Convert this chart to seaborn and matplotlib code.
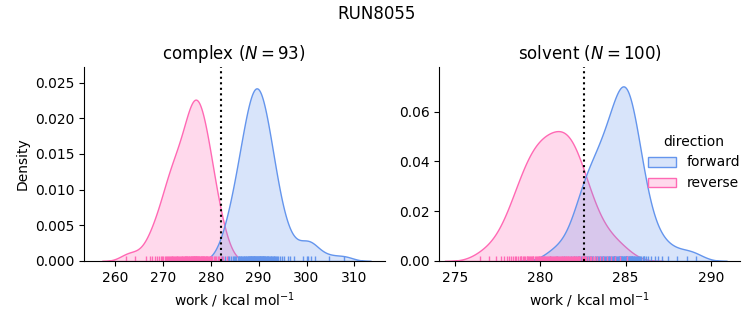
import numpy as np
import pandas as pd
import matplotlib
matplotlib.use("Agg")
import matplotlib.pyplot as plt
import seaborn as sns

# ---- data (work values, kcal/mol) ----
complex_reverse = [
    262.3, 264.1, 266.4, 267.2, 267.8, 268.4, 268.7, 269.1, 269.5,
    269.8, 270.1, 270.4, 270.7, 270.9, 271.1, 271.3, 271.5, 271.6, 271.8,
    271.9, 272.0, 272.2, 272.5, 272.7, 272.9, 273.0, 273.2, 273.4, 273.6, 273.9,
    273.7, 273.9, 274.1, 274.3, 274.5, 274.6, 274.8,
    274.9, 275.0, 275.1, 275.3, 275.4, 275.5, 275.7, 275.8, 275.9,
    276.0, 276.1, 276.2, 276.3, 276.4, 276.5, 276.5, 276.6, 276.7, 276.8, 276.9,
    277.0, 277.1, 277.2, 277.3, 277.4, 277.5, 277.6, 277.8, 277.9,
    278.0, 278.1, 278.2, 278.3, 278.4, 278.5, 278.6, 278.8, 278.9,
    279.0, 279.2, 279.3, 279.5, 279.6, 279.8, 279.9,
    280.0, 280.1, 280.3, 280.6, 280.9, 281.1, 281.4, 281.8, 282.2, 282.6, 283.3,
]
complex_forward = [
    282.4, 282.9, 283.6, 283.8, 284.2, 284.7,
    284.9, 285.1, 285.3, 285.6, 285.8,
    285.9, 286.1, 286.3, 286.4, 286.6, 286.8, 286.9,
    287.0, 287.1, 287.3, 287.4, 287.5, 287.7, 287.8, 287.9,
    288.0, 288.1, 288.2, 288.3, 288.4, 288.5, 288.6, 288.7, 288.8, 288.9,
    289.0, 289.1, 289.1, 289.2, 289.3, 289.4, 289.5, 289.6, 289.7, 289.8, 289.9,
    290.0, 290.1, 290.2, 290.2, 290.3, 290.4, 290.5, 290.6, 290.7, 290.8, 290.9,
    291.0, 291.1, 291.2, 291.3, 291.4, 291.6, 291.7, 291.8, 291.9,
    292.0, 292.2, 292.3, 292.5, 292.6, 292.8, 292.9,
    293.1, 293.3, 293.5, 293.7, 293.9, 294.1, 294.4, 294.8,
    295.2, 296.1, 296.6, 297.3, 299.2, 300.1, 300.4, 301.0, 301.8, 304.6, 307.9,
]
solvent_reverse = [
    276.5, 277.0, 277.4, 277.7, 277.9, 278.05, 278.2,
    278.3, 278.4, 278.5, 278.6, 278.7,
    278.8, 278.85, 278.9, 279.0, 279.05, 279.1, 279.2,
    279.25, 279.3, 279.35, 279.4, 279.45, 279.5, 279.55, 279.6, 279.7,
    279.75, 279.8, 279.85, 279.9, 279.95, 280.0, 280.05, 280.1, 280.15, 280.2,
    280.25, 280.3, 280.35, 280.4, 280.45, 280.5, 280.55, 280.6, 280.65, 280.7,
    280.75, 280.8, 280.85, 280.9, 280.95, 281.0, 281.05, 281.1, 281.15, 281.2,
    281.25, 281.3, 281.35, 281.4, 281.45, 281.5, 281.5, 281.55, 281.6, 281.65, 281.7,
    281.75, 281.8, 281.85, 281.9, 281.95, 282.0, 282.05, 282.1, 282.15, 282.2,
    282.25, 282.3, 282.35, 282.45, 282.5, 282.55, 282.6, 282.7,
    282.8, 282.9, 283.0, 283.1, 283.2, 283.35, 283.5, 283.7,
    283.9, 284.15, 284.4, 284.7, 285.1,
]
solvent_forward = [
    280.6, 281.0, 281.4, 281.8, 281.95, 282.1, 282.2,
    282.3, 282.4, 282.45, 282.55, 282.6, 282.7,
    282.75, 282.8, 282.85, 282.9, 283.0, 283.05, 283.1, 283.2,
    283.25, 283.3, 283.4, 283.45, 283.5, 283.55, 283.6, 283.65, 283.7,
    283.75, 283.8, 283.85, 283.9, 283.95, 284.0, 284.05, 284.1, 284.15, 284.2,
    284.25, 284.3, 284.3, 284.35, 284.4, 284.4, 284.45, 284.5, 284.55, 284.6, 284.6, 284.65, 284.7,
    284.75, 284.75, 284.8, 284.8, 284.85, 284.9, 284.9, 284.95, 285.0, 285.0, 285.0, 285.05,
    285.1, 285.1, 285.15, 285.2, 285.2,
    285.25, 285.25, 285.3, 285.3, 285.35, 285.4, 285.4, 285.45, 285.5, 285.5, 285.55, 285.6,
    285.65, 285.7,
    285.8, 285.85, 285.9, 286.0, 286.05, 286.1, 286.2,
    286.3, 286.5, 286.7, 286.9, 287.15, 287.5, 288.0, 288.6, 289.1,
]
phases = ["complex", "solvent"]
directions = ["forward", "reverse"]
bar_estimates = [282.1, 282.55]
run_name = "RUN8055"

frames = []
for phase, fwd, rev in [("complex", complex_forward, complex_reverse),
                        ("solvent", solvent_forward, solvent_reverse)]:
    frames.append(pd.DataFrame({"work": fwd, "direction": "forward", "phase": phase}))
    frames.append(pd.DataFrame({"work": rev, "direction": "reverse", "phase": phase}))
df = pd.concat(frames, ignore_index=True)

palette = {"forward": "cornflowerblue", "reverse": "hotpink"}

g = sns.displot(
    data=df, x="work", hue="direction", col="phase", col_order=phases,
    hue_order=directions, kind="kde", fill=True, rug=True, common_norm=True,
    palette=palette, facet_kws=dict(sharex=False, sharey=False),
    height=3, aspect=1.1,
)

counts = {"complex": len(complex_forward), "solvent": len(solvent_forward)}
for ax, phase, est in zip(g.axes.flat, phases, bar_estimates):
    ax.axvline(est, color="k", ls=":", lw=1.5)
    ax.set_title(f"{phase} ($N = {counts[phase]}$)", fontsize=12)
    ax.set_xlabel("work / kcal mol$^{-1}$")

g.axes.flat[0].set_ylabel("Density")
g.axes.flat[0].set_xlim(253.5, 316.3)
g.axes.flat[1].set_xlim(274.1, 291.7)
g.axes.flat[0].set_ylim(0, 0.0272)
g.axes.flat[1].set_ylim(0, 0.0779)

fig = g.figure
fig.set_size_inches(7.53, 3.25)
fig.subplots_adjust(left=0.1116, right=0.9827, bottom=0.197, top=0.794, wspace=0.183)
fig.suptitle(run_name, fontsize=12, y=0.985)
sns.move_legend(g, "center right", bbox_to_anchor=(1.0, 0.5), frameon=False)

fig.savefig("out.png", dpi=100)
